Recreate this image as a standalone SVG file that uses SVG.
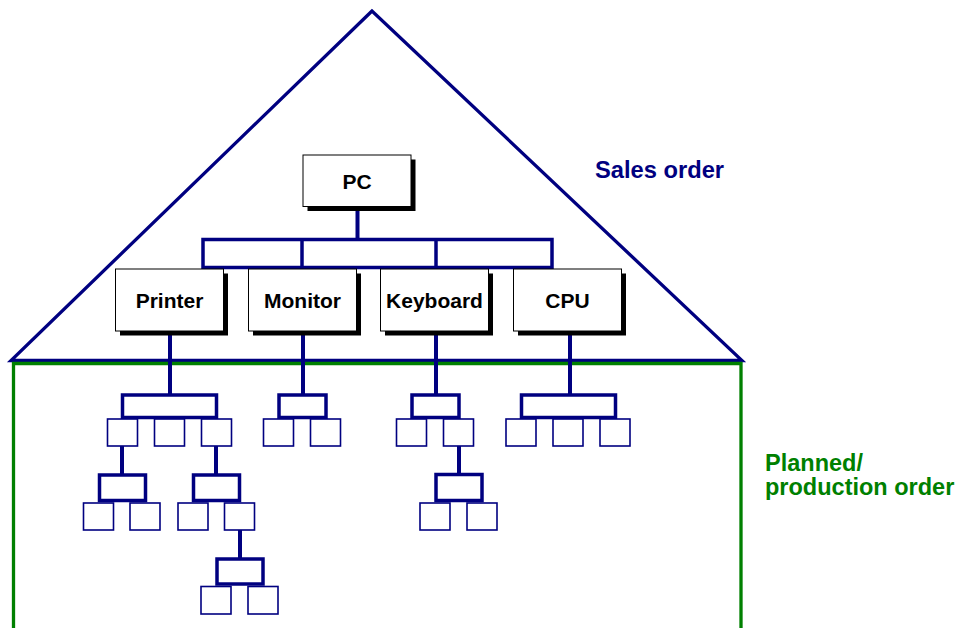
<svg xmlns="http://www.w3.org/2000/svg" width="961" height="628" viewBox="0 0 961 628">
<style>
.bg{fill:#ffffff}
.tri{fill:none;stroke:#000080;stroke-width:3.3;stroke-linejoin:miter}
.grn{fill:none;stroke:#008000;stroke-width:3.3}
.conn{stroke:#000080;stroke-width:4;fill:none}
.bus{stroke:#000080;stroke-width:3.5;fill:none}
.shadow{fill:#000000}
.box{fill:#ffffff;stroke:#000000;stroke-width:1}
.leaf{fill:#ffffff;stroke:#000080;stroke-width:1.6}
.lbl{font-family:"Liberation Sans",Arial,sans-serif;font-weight:bold;font-size:21px;fill:#000000;text-anchor:middle}
.side{font-family:"Liberation Sans",Arial,sans-serif;font-weight:bold}
</style>
<rect class="bg" x="0" y="0" width="961" height="628"/>
<g id="sales-area">
<polygon class="tri" points="372,11 11,360.5 742,360.5"/>
<text class="side" x="595" y="178" font-size="23.7" fill="#000080">Sales order</text>
</g>
<g id="production-area">
<polyline class="grn" points="13.5,640 13.5,363.5 741,363.5 741,640"/>
<text class="side" x="765" y="471" font-size="23.5" fill="#008000">Planned/</text>
<text class="side" x="765" y="495" font-size="23.5" fill="#008000">production order</text>
</g>
<g id="connectors">
<line class="conn" x1="357.5" y1="207" x2="357.5" y2="239.5"/>
<rect class="bus" x="203" y="239.5" width="349" height="28"/>
<line class="bus" x1="302" y1="239.5" x2="302" y2="267.5"/>
<line class="bus" x1="436" y1="239.5" x2="436" y2="267.5"/>
<line class="conn" x1="170" y1="335" x2="170" y2="395"/>
<line class="conn" x1="303" y1="335" x2="303" y2="395"/>
<line class="conn" x1="436" y1="335" x2="436" y2="395"/>
<line class="conn" x1="570" y1="335" x2="570" y2="395"/>
<rect class="bus" x="122.5" y="395" width="94" height="22.5"/>
<rect class="bus" x="279" y="395" width="47" height="22.5"/>
<rect class="bus" x="412" y="395" width="47" height="22.5"/>
<rect class="bus" x="521.5" y="395" width="94" height="22.5"/>
<line class="conn" x1="122" y1="446" x2="122" y2="475"/>
<rect class="bus" x="99.5" y="475" width="46" height="25.5"/>
<line class="conn" x1="216" y1="446" x2="216" y2="475"/>
<rect class="bus" x="193.5" y="475" width="46" height="25.5"/>
<line class="conn" x1="240" y1="530" x2="240" y2="559"/>
<rect class="bus" x="217" y="559" width="46" height="25"/>
<line class="conn" x1="459" y1="446" x2="459" y2="474.5"/>
<rect class="bus" x="436" y="474.5" width="46" height="26"/>
</g>
<g id="pc">
<rect class="shadow" x="307.5" y="159.5" width="108" height="51.5"/>
<rect class="box" x="303" y="155" width="108" height="51.5"/>
<text class="lbl" x="357" y="189">PC</text>
</g>
<g id="printer">
<rect class="shadow" x="120" y="273.5" width="108" height="62"/>
<rect class="box" x="115.5" y="269" width="108" height="62"/>
<text class="lbl" x="169.5" y="308">Printer</text>
</g>
<g id="monitor">
<rect class="shadow" x="253" y="273.5" width="108" height="62"/>
<rect class="box" x="248.5" y="269" width="108" height="62"/>
<text class="lbl" x="302.5" y="308">Monitor</text>
</g>
<g id="keyboard">
<rect class="shadow" x="385" y="273.5" width="108" height="62"/>
<rect class="box" x="380.5" y="269" width="108" height="62"/>
<text class="lbl" x="434.5" y="308">Keyboard</text>
</g>
<g id="cpu">
<rect class="shadow" x="518" y="273.5" width="108" height="62"/>
<rect class="box" x="513.5" y="269" width="108" height="62"/>
<text class="lbl" x="567.5" y="308">CPU</text>
</g>
<g id="printer-parts">
<rect class="leaf" x="107.5" y="419" width="30" height="27"/>
<rect class="leaf" x="154.5" y="419" width="30" height="27"/>
<rect class="leaf" x="201.5" y="419" width="30" height="27"/>
<rect class="leaf" x="83.5" y="503" width="30" height="27"/>
<rect class="leaf" x="130" y="503" width="30" height="27"/>
<rect class="leaf" x="178" y="503" width="30" height="27"/>
<rect class="leaf" x="224.5" y="503" width="30" height="27"/>
<rect class="leaf" x="201" y="586.5" width="30" height="27.5"/>
<rect class="leaf" x="248" y="586.5" width="30" height="27.5"/>
</g>
<g id="monitor-parts">
<rect class="leaf" x="263.5" y="419" width="30" height="27"/>
<rect class="leaf" x="310.5" y="419" width="30" height="27"/>
</g>
<g id="keyboard-parts">
<rect class="leaf" x="396.5" y="419" width="30" height="27"/>
<rect class="leaf" x="443.5" y="419" width="30" height="27"/>
<rect class="leaf" x="420" y="503" width="30" height="27"/>
<rect class="leaf" x="467" y="503" width="30" height="27"/>
</g>
<g id="cpu-parts">
<rect class="leaf" x="506" y="419" width="30" height="27"/>
<rect class="leaf" x="553" y="419" width="30" height="27"/>
<rect class="leaf" x="600" y="419" width="30" height="27"/>
</g>
</svg>
